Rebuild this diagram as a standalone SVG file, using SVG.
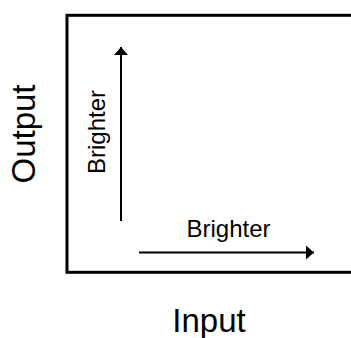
<svg xmlns="http://www.w3.org/2000/svg" width="351" height="338" viewBox="0 0 351 338">
<defs>
<style>
text{font-family:"Liberation Sans",Arial,sans-serif;fill:#000}
.axis{font-size:33px}
.lbl{font-size:24px}
.arr{stroke:#000;stroke-width:2;fill:none}
</style>
<marker id="ah" markerWidth="8" markerHeight="14" refX="8" refY="7" orient="auto" markerUnits="userSpaceOnUse">
<path d="M0,0 L8,7 L0,14 Z" fill="#000"/>
</marker>
</defs>
<rect width="351" height="338" fill="#fff"/>
<g id="frame">
<rect x="67" y="15.3" width="300" height="257" fill="none" stroke="#000" stroke-width="3"/>
</g>
<g id="connectors">
<line class="arr" x1="121" y1="221" x2="121" y2="47" marker-end="url(#ah)"/>
<line class="arr" x1="139" y1="252.5" x2="314" y2="252.5" marker-end="url(#ah)"/>
</g>
<g id="labels">
<text class="axis" x="209" y="332" text-anchor="middle">Input</text>
<text class="axis" transform="translate(35,134) rotate(-90)" text-anchor="middle">Output</text>
<text class="lbl" x="228.5" y="237" text-anchor="middle">Brighter</text>
<text class="lbl" transform="translate(105,132) rotate(-90)" text-anchor="middle">Brighter</text>
</g>
</svg>
